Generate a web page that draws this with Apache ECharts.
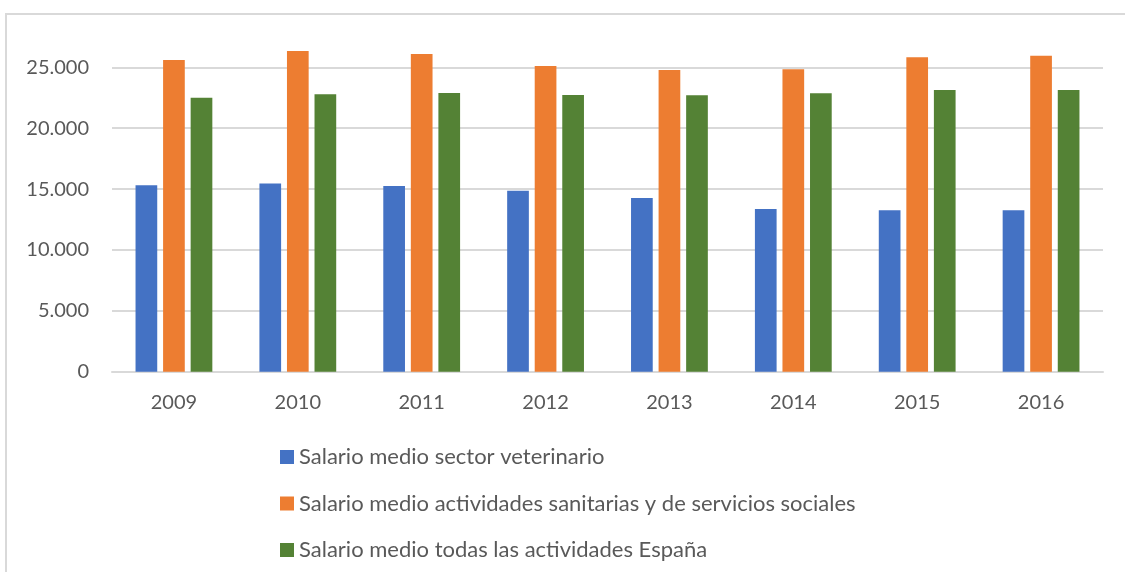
<!DOCTYPE html>
<html>
<head>
<meta charset="utf-8">
<script src="https://cdn.jsdelivr.net/npm/echarts@6/dist/echarts.min.js"></script>
<style>
  html, body { margin: 0; padding: 0; background: #fff; }
  #chart { width: 1125px; height: 572px; }
</style>
</head>
<body>
<div id="chart"></div>
<script>
  // data
  const years = ['2009', '2010', '2011', '2012', '2013', '2014', '2015', '2016'];
  const veterinario = [15310, 15470, 15250, 14870, 14270, 13360, 13260, 13260];
  const sanitarias = [25600, 26340, 26100, 25110, 24780, 24840, 25830, 25960];
  const espana = [22510, 22790, 22890, 22730, 22700, 22870, 23140, 23140];

  const seriesNames = [
    'Salario medio sector veterinario',
    'Salario medio actividades sanitarias y de servicios sociales',
    'Salario medio todas las actividades España'
  ];
  const colors = ['#4472C4', '#ED7D31', '#548235'];

  const font = 'Lato, "Open Sans", sans-serif';

  const chart = echarts.init(document.getElementById('chart'));

  const fmt = v => v === 0 ? '0' : v.toString().replace(/\B(?=(\d{3})+(?!\d))/g, '.');

  const option = {
    animation: false,
    color: colors,
    graphic: [{
      type: 'rect',
      shape: { x: 6, y: 14, width: 1140, height: 600 },
      style: { fill: 'none', stroke: '#d9d9d9', lineWidth: 2 },
      silent: true,
      z: -1
    }],
    grid: {
      left: 112,
      right: 22,
      top: 6.5,
      bottom: 200.3
    },
    legend: {
      orient: 'vertical',
      left: 275,
      top: 441,
      icon: 'rect',
      itemWidth: 14,
      itemHeight: 14,
      itemGap: 24.5,
      textStyle: { fontFamily: font, fontSize: 22, color: '#595959', lineHeight: 22 },
      data: seriesNames
    },
    xAxis: {
      type: 'category',
      data: years,
      axisLine: { lineStyle: { color: '#d9d9d9', width: 2 } },
      axisTick: { show: false },
      axisLabel: { fontFamily: font, fontSize: 20, color: '#595959', margin: 21 }
    },
    yAxis: {
      type: 'value',
      min: 0,
      max: 30000,
      interval: 5000,
      axisLine: { show: false },
      axisTick: { show: false },
      splitLine: { showMaxLine: false, lineStyle: { color: '#d9d9d9', width: 2 } },
      axisLabel: {
        fontFamily: font, fontSize: 20, color: '#595959', margin: 23,
        showMaxLabel: false,
        formatter: fmt
      }
    },
    series: [
      { name: seriesNames[0], type: 'bar', data: veterinario, barGap: '27%', barCategoryGap: '38%' },
      { name: seriesNames[1], type: 'bar', data: sanitarias, barGap: '27%', barCategoryGap: '38%' },
      { name: seriesNames[2], type: 'bar', data: espana, barGap: '27%', barCategoryGap: '38%' }
    ]
  };

  chart.setOption(option);
</script>
</body>
</html>
